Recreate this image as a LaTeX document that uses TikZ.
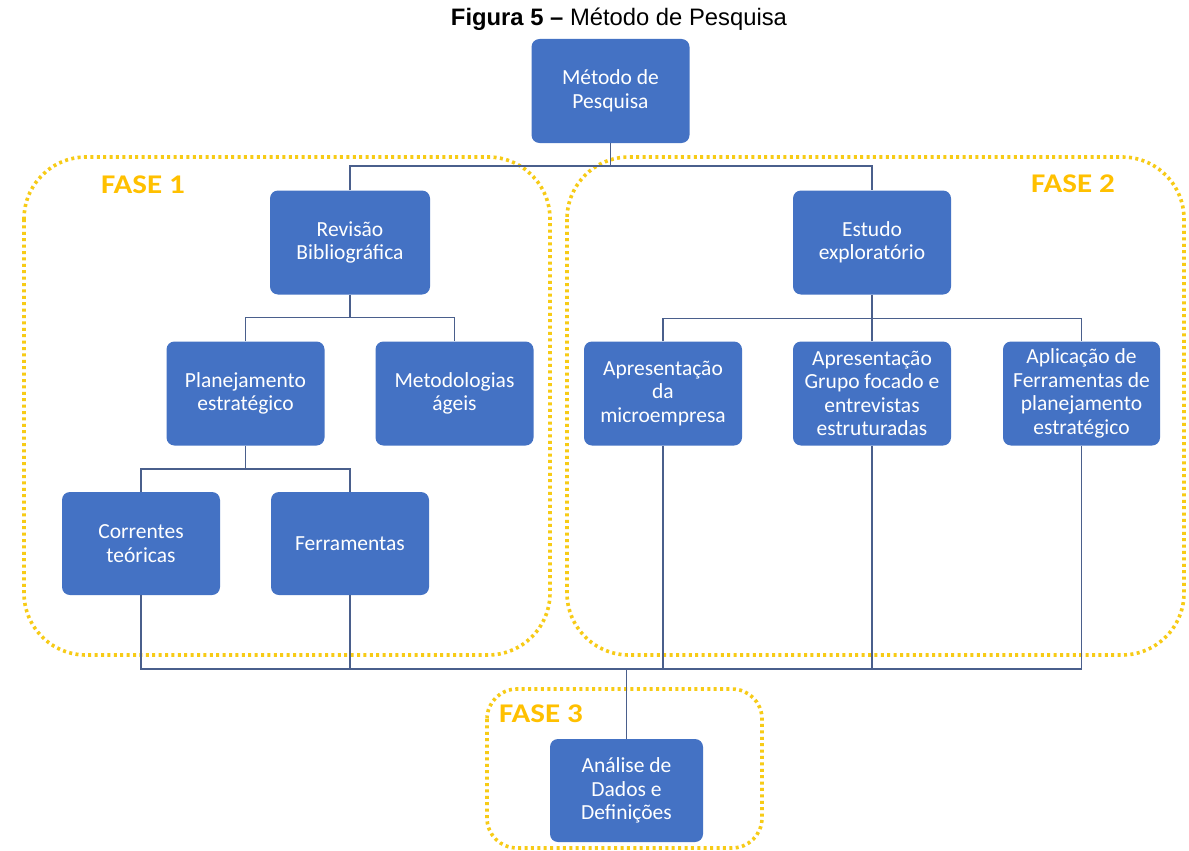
\documentclass[tikz,border=0pt]{standalone}
\usepackage{fontspec}
\setmainfont{Liberation Sans}
\newfontfamily\boxfont{Carlito}
\newfontfamily\fasefont[FakeStretch=1.15]{Carlito}
\definecolor{boxblue}{HTML}{4472C4}
\definecolor{linecol}{HTML}{4A5F8C}
\definecolor{gold}{HTML}{F7CB16}
\definecolor{fasecol}{HTML}{FFC000}
\tikzset{
  stepbox/.style={rectangle, rounded corners=8pt, fill=boxblue, text=white, align=center,
    font=\boxfont\fontsize{21.5}{23.5}\selectfont, inner sep=0pt, minimum width=158pt, minimum height=104pt},
  conn/.style={draw=linecol, line width=1.4pt},
  phase/.style={draw=gold, line width=3.6pt, dash pattern=on 3pt off 3.4pt},
  phaselabel/.style={text=fasecol, font=\fasefont\bfseries\fontsize{27}{30}\selectfont, inner sep=0pt}
}
\begin{document}
\begin{tikzpicture}[x=1pt,y=-1pt]
\useasboundingbox[fill=white] (0,0) rectangle (1189,851);
% title
\node[font=\fontsize{23.8}{26}\selectfont, inner sep=0pt] (title) at (619,19) {\textbf{Figura 5 –} Método de Pesquisa};
% phase regions
\draw[phase, rounded corners=62pt] (24,157) rectangle (550,655);
\draw[phase, rounded corners=62pt] (567,157) rectangle (1184,655);
\draw[phase, rounded corners=30pt] (487,689) rectangle (762,848);
\node[phaselabel] (f1) at (143,185) {FASE 1};
\node[phaselabel] (f2) at (1073,184) {FASE 2};
\node[phaselabel] (f3) at (541,714) {FASE 3};
% boxes
\node[stepbox] (met) at (610.5,91) {Método de\\Pesquisa};
\node[stepbox, minimum width=160pt] (rev) at (350,242.5) {Revisão\\Bibliográfica};
\node[stepbox] (est) at (872,242.5) {Estudo\\exploratório};
\node[stepbox] (pla) at (245.5,393.5) {Planejamento\\estratégico};
\node[stepbox] (mag) at (454.5,393.5) {Metodologias\\ágeis};
\node[stepbox, minimum height=103pt] (cor) at (141,543.5) {Correntes\\teóricas};
\node[stepbox, minimum height=103pt] (fer) at (350,543.5) {Ferramentas};
\node[stepbox] (mic) at (663,393.5) {Apresentação\\da\\microempresa};
\node[stepbox] (gru) at (872,393.5) {Apresentação\\Grupo focado e\\entrevistas\\estruturadas};
\node[stepbox, minimum width=157pt] (apl) at (1081.5,393.5) {Aplicação de\\Ferramentas de\\planejamento\\estratégico};
\node[stepbox, minimum width=153pt, minimum height=103pt] (ana) at (626.5,790.5) {Análise de\\Dados e\\Definições};
% connectors
\coordinate (b0) at (0,166);
\coordinate (bb) at (0,669);
\draw[conn] (met.south) -- (met.south |- b0);
\draw[conn] (rev.north) -- (rev.north |- b0) -| (est.north);
\draw[conn] (rev.south) -- ++(0,22);
\draw[conn] (pla.north) -- ++(0,-24) -| (mag.north);
\draw[conn] (pla.south) -- ++(0,23);
\draw[conn] (cor.north) -- ++(0,-23) -| (fer.north);
\draw[conn] (est.south) -- ++(0,23);
\draw[conn] (mic.north) -- ++(0,-23) -| (apl.north);
\draw[conn] (gru.north) -- ++(0,-23);
\draw[conn] (cor.south) -- (cor.south |- bb) -| (apl.south);
\draw[conn] (fer.south) -- (fer.south |- bb);
\draw[conn] (mic.south) -- (mic.south |- bb);
\draw[conn] (gru.south) -- (gru.south |- bb);
\draw[conn] (ana.north) -- (ana.north |- bb);
\end{tikzpicture}
\end{document}
